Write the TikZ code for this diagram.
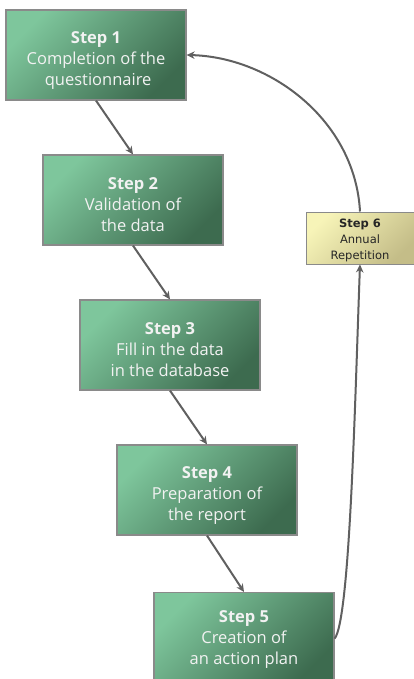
\documentclass[tikz,border=0pt]{standalone}
\usepackage{fontspec}
\setmainfont{Open Sans}
\newfontfamily\tahoma{DejaVu Sans}
\usetikzlibrary{arrows.meta}
\definecolor{glight}{HTML}{7EC69C}
\definecolor{gdark}{HTML}{3D6B4F}
\definecolor{ylight}{HTML}{F7F4B8}
\definecolor{ydark}{HTML}{C4BD88}
\definecolor{edge}{HTML}{8A8A8A}
\definecolor{link}{HTML}{606060}
\tikzset{
  stepbox/.style={draw=edge, line width=1.2pt, minimum width=180pt, minimum height=90pt,
    left color=glight, right color=gdark, shading angle=45, inner sep=0pt,
    text=white!90!gray, font=\fontsize{16.5}{21}\selectfont, align=center,
    text height=64pt},
  repbox/.style={draw=edge, line width=1pt, minimum width=108pt, minimum height=52pt,
    left color=ylight, right color=ydark, shading angle=45, inner sep=0pt,
    text=black!85, font=\tahoma\fontsize{11.5}{16}\selectfont, align=center,
    text height=45.5pt},
  link/.style={draw=link, line width=2pt, -{Stealth[length=8pt,width=7.5pt]}}
}
\begin{document}
\begin{tikzpicture}[x=1pt,y=-1pt]
  \useasboundingbox (0,0) rectangle (414,679);
  \node[stepbox] (s1) at (96,55) {\textbf{Step 1}\\Completion of the\\~questionnaire};
  \node[stepbox] (s2) at (133,200) {\textbf{Step 2}\\Validation of\\the data};
  \node[stepbox] (s3) at (170,345) {\textbf{Step 3}\\Fill in the data\\in the database};
  \node[stepbox] (s4) at (207,490) {\textbf{Step 4}\\Preparation of\\the report};
  \node[stepbox, minimum height=92pt, text height=56pt, anchor=north] (s5) at (244,592) {\textbf{Step 5}\\Creation of\\an action plan};
  \node[repbox] (s6) at (360,238) {\textbf{Step 6}\\Annual\\Repetition};

  \draw[link] (s1.south) -- (s2.north);
  \draw[link] (s2.south) -- (s3.north);
  \draw[link] (s3.south) -- (s4.north);
  \draw[link] (s4.south) -- (s5.north);
  \draw[link] (s5.east) .. controls (350,620) and (355,400) .. (s6.south);
  \draw[link] (s6.north) .. controls (355,120) and (270,57) .. (s1.east);
\end{tikzpicture}
\end{document}
